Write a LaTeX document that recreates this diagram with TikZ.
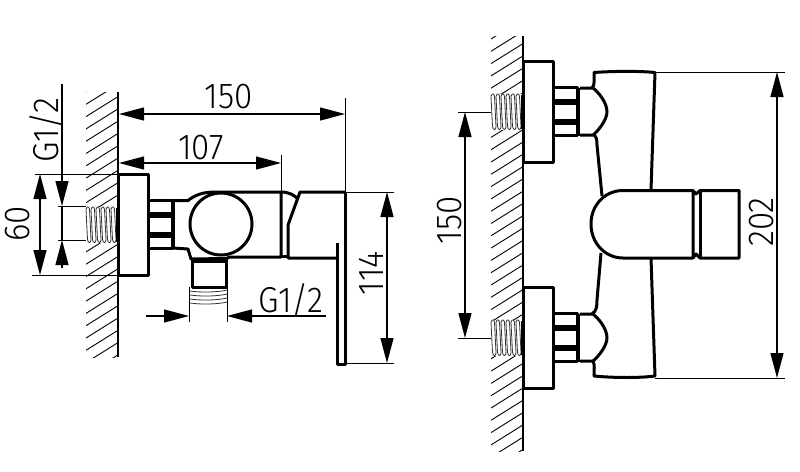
\documentclass[tikz,border=0pt]{standalone}
\usepackage{fontspec}
\setmainfont{Fira Sans Light}[FakeStretch=0.92]
\usetikzlibrary{arrows.meta}

\tikzset{
  part/.style={line width=3pt, line join=round},
  thin line/.style={line width=0.8pt},
  hatch line/.style={line width=0.9pt},
  dim line/.style={line width=1.2pt, {Triangle[length=25pt,width=13pt]}-{Triangle[length=25pt,width=13pt]}},
  one tip/.style={line width=1.2pt, -{Triangle[length=25pt,width=13pt]}},
  dim label/.style={font=\fontsize{36}{36}\selectfont, inner sep=0pt},
  coil/.style={line width=0.8pt, draw=black!80}
}

\newcommand{\wallhatch}[4]{
  \begin{scope}
    \clip (#1,#2) rectangle (#1+32,#3);
    \foreach \k in {0,...,40} {
      \draw [hatch line] (#1,#2+\k*12.3+#4) -- (#1+32,#2+\k*12.3+#4-20);
    }
  \end{scope}
  \draw [line width=1.2pt] (#1+32,#2) -- (#1+32,#3);
}

\newcommand{\mountpart}[2]{
  \begin{scope}[shift={(#1,#2)}]
    \fill [white] (-32,-18) rectangle (0,18);
    \foreach \t in {-32,-27,...,-7} {
      \draw [coil] (\t,-15) .. controls (\t+1,-19) and (\t+3,-18) .. (\t+3.5,-15) -- (\t+5,15) .. controls (\t+5,19) and (\t+2,19) .. (\t+1.5,15) -- cycle;
    }
    \draw [line width=1.8pt] (-1,-17) -- (-1,17);
    \draw [part, fill=white] (0,-50.5) rectangle (30,50.5);
    \draw [part] (30,-24) -- (54,-24) -- (54,24) -- (30,24);
    \fill (30,-12.5) rectangle (54,-6.5);
    \fill (30,7) rectangle (54,13);
    \draw [line width=4pt] (55,-24) -- (55,24);
  \end{scope}
}

\begin{document}
\begin{tikzpicture}[x=1pt, y=-1pt]
  \useasboundingbox (0,0) rectangle (800,471);

  \wallhatch{86}{92}{357}{0}
  \wallhatch{491}{36}{451}{3}
  \mountpart{118}{224.5}
  \mountpart{523}{111.5}
  \mountpart{523}{337.5}

  % side view
  \draw [part] (173,200.5) -- (188,200.5) .. controls (195,195) and (203,192) .. (215,192) -- (281,192) -- (281,257) -- (230,257) -- (226,258.5) -- (191,259) -- (188,249) -- (173,248);
  \draw [part, fill=white] (221,224) circle (31);
  \draw [part] (192,259) -- (192,287) -- (226,287) -- (226,259);
  \draw [line width=3.5pt] (193,261.5) -- (225,261.5);
  \draw [line width=2.8pt] (192,287) -- (226,287);
  \foreach \t in {291,295,...,303} {
    \draw [coil] (190,\t) .. controls (200,\t+1.5) and (217,\t+1.5) .. (227,\t-1);
  }
  \draw [part] (281,192) .. controls (289,192) and (294,195) .. (298,199);
  \draw [part] (281,256.5) -- (288,256.5);
  \draw [part] (345,192) -- (300,192) -- (288,225) -- (288,258) -- (337,258);
  \draw [part] (337,243) -- (337,364) -- (345,364) -- (345,192);

  % front view
  \draw [part] (580,88) -- (593,88) .. controls (598,92) and (607,102) .. (607,112) .. controls (607,120) and (598,131) .. (593,135) -- (580,135);
  \draw [part] (592,88) .. controls (595,85) and (594,80) .. (594,72.5) .. controls (615,71) and (640,71) .. (655,72.5) -- (651,190);
  \draw [part] (594,135) .. controls (597,137) and (597,142) .. (597,145) -- (602,196);
  \draw [part] (580,314) -- (593,314) .. controls (598,318) and (607,328) .. (607,338) .. controls (607,346) and (598,357) .. (593,361) -- (580,361);
  \draw [part] (592,314) .. controls (597,311) and (597,305) .. (597,300) -- (601,253);
  \draw [part] (593,361) .. controls (595,365) and (594,370) .. (594,376) .. controls (615,378) and (640,378) .. (655,376) -- (651,258);
  \draw [part] (693,190.5) -- (623,190.5) .. controls (605,190.5) and (591,205) .. (591,224) .. controls (591,243) and (605,258) .. (623,258) -- (693,258) -- cycle;
  \draw [part] (693,190.5) -- (696,194) -- (700,190.5) -- (739,190.5) -- (739,258) -- (700,258) -- (696,254) -- (693,258);
  \draw [part] (700,190.5) -- (700,258);

  % extension lines
  \draw [thin line] (35,174) -- (118,174);
  \draw [thin line] (32,275) -- (118,275);
  \draw [thin line] (58,206) -- (86,206);
  \draw [thin line] (58,240) -- (86,240);
  \draw [thin line] (345,98) -- (345,192);
  \draw [thin line] (281,155) -- (281,192);
  \draw [thin line] (345,192) -- (394,192);
  \draw [thin line] (345,363) -- (394,363);
  \draw [thin line] (189,287) -- (189,322);
  \draw [thin line] (227,287) -- (227,322);
  \draw [thin line] (458,112) -- (491,112);
  \draw [thin line] (458,338) -- (491,338);
  \draw [thin line] (655,72) -- (785,72);
  \draw [thin line] (655,378) -- (785,378);

  % dimensions
  \draw [dim line] (119,114) -- (345,114);
  \node [dim label] (width150) at (229,97) {150};
  \draw [dim line] (119,163) -- (281,163);
  \node [dim label] (width107) at (201,148) {107};
  \draw [dim line] (40,174) -- (40,275);
  \node [dim label, rotate=90] (height60) at (18,224) {60};
  \draw [one tip] (62,84) -- (62,206);
  \draw [one tip] (62,268) -- (62,240);
  \draw [line width=1.2pt] (62,206) -- (62,240);
  \node [dim label, rotate=90] (threadleft) at (46,130) {G1/2};
  \draw [one tip] (146,316) -- (189,316);
  \draw [one tip] (326,316) -- (227,316);
  \node [dim label] (threadbottom) at (291,300) {G1/2};
  \draw [dim line] (387,192) -- (387,363);
  \node [dim label, rotate=90] (height114) at (371,273) {114};
  \draw [dim line] (465,112) -- (465,338);
  \node [dim label, rotate=90] (spacing150) at (450,220) {150};
  \draw [dim line] (777,72) -- (777,378);
  \node [dim label, rotate=90] (height202) at (762,222) {202};
\end{tikzpicture}
\end{document}
